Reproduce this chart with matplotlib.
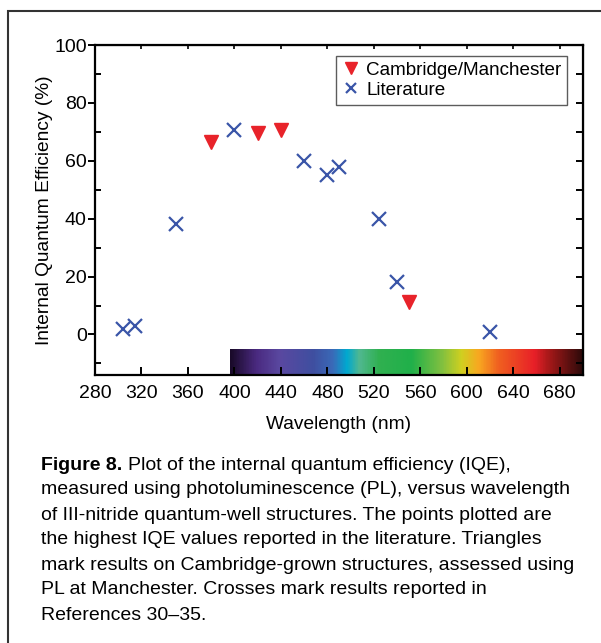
import numpy as np
import matplotlib
matplotlib.use("Agg")
import matplotlib.pyplot as plt
from matplotlib.colors import LinearSegmentedColormap
from matplotlib.patches import Rectangle

plt.rcParams['font.family'] = ['Liberation Sans', 'DejaVu Sans']

# measured points (wavelength nm, IQE %)
cam_wl = [380, 420, 440, 550]
cam_iqe = [66.5, 69.5, 70.5, 11.2]

lit_wl = [304, 314, 350, 400, 460, 480, 490, 524, 540, 620]
lit_iqe = [2.0, 2.9, 38.0, 70.8, 60.0, 55.0, 57.7, 39.8, 18.0, 0.8]

x_ticks = [280, 320, 360, 400, 440, 480, 520, 560, 600, 640, 680]
y_ticks = [0, 20, 40, 60, 80, 100]
y_minor = [-10, 10, 30, 50, 70, 90]

# visible spectrum strip along the bottom
spec_wl = [396, 418, 438, 467, 484, 496, 507, 524, 552, 578, 595, 610, 627, 658, 672, 700]
spec_col = ['#1a0a2a', '#4a2a80', '#5a48a0', '#3f4fa0', '#3a6ab8', '#00a8d0',
            '#50b890', '#30b050', '#20b04a', '#80c040', '#d0d020', '#f8a820',
            '#f06020', '#e82028', '#a01818', '#2a0a0a']

caption = [
    "measured using photoluminescence (PL), versus wavelength",
    "of III-nitride quantum-well structures. The points plotted are",
    "the highest IQE values reported in the literature. Triangles",
    "mark results on Cambridge-grown structures, assessed using",
    "PL at Manchester. Crosses mark results reported in",
    "References 30\u201335.",
]

RED = '#e8232a'
BLUE = '#3a55a8'

fig = plt.figure(figsize=(6.01, 6.43), dpi=100)
ax = fig.add_axes([95/601, 1 - 375/643, 488/601, 330/643])

# spectrum strip
lo, hi = spec_wl[0], spec_wl[-1]
stops = [(w - lo) / (hi - lo) for w in spec_wl]
cmap = LinearSegmentedColormap.from_list('spec', list(zip(stops, spec_col)))
ax.imshow(np.linspace(lo, hi, 400)[None, :], extent=[lo, hi, -14, -5.2],
          aspect='auto', cmap=cmap, zorder=0, interpolation='bilinear')

ax.plot(cam_wl, cam_iqe, linestyle='none', marker='v', color=RED,
        markersize=10.5, label='Cambridge/Manchester', zorder=3)
ax.plot(lit_wl, lit_iqe, linestyle='none', marker='x', color=BLUE,
        markersize=9.5, markeredgewidth=1.6, label='Literature', zorder=3)

ax.set_xlim(280, 700)
ax.set_ylim(-14, 100)
ax.set_xticks(x_ticks)
ax.set_yticks(y_ticks)
ax.set_yticks(y_minor, minor=True)
ax.set_axisbelow(False)

for s in ax.spines.values():
    s.set_linewidth(1.6)

ax.tick_params(axis='x', direction='in', length=6, width=1.4, labelsize=14, pad=7)
ax.tick_params(axis='y', which='major', direction='out', length=5, width=1.4,
               labelsize=14, pad=1)
ax.tick_params(axis='y', which='minor', direction='in', length=4, width=1.4)

# right & top tick marks, inward, no labels
sec_y = ax.secondary_yaxis('right')
sec_y.set_yticks(y_ticks)
sec_y.set_yticks(y_minor, minor=True)
sec_y.tick_params(which='both', direction='in', length=5, width=1.4, labelright=False)
sec_x = ax.secondary_xaxis('top')
sec_x.set_xticks(x_ticks[1:])
sec_x.tick_params(direction='in', length=3, width=1.2, labeltop=False)

ax.set_xlabel('Wavelength (nm)', fontsize=13.8, labelpad=10)
ax.set_ylabel('Internal Quantum Efficiency (%)', fontsize=13.8, labelpad=1)

leg = ax.legend(loc='upper right', bbox_to_anchor=((567 - 95)/488, (375 - 56)/330),
                borderaxespad=0, fontsize=13.6, frameon=True, fancybox=False,
                handletextpad=0.3, handlelength=1.0, markerscale=0.8,
                borderpad=0.3, labelspacing=0.15)
leg.get_frame().set_edgecolor('#333333')
leg.get_frame().set_linewidth(1.0)

# page border (only top and left visible)
fig.patches.append(Rectangle((8/601, -0.1), 1.2, 1 - 11/643 + 0.1,
                             transform=fig.transFigure, fill=False,
                             edgecolor='#333333', linewidth=1.5))

# caption
x0 = 41/601
y_line = 465
bold = fig.text(x0, 1 - y_line/643, "Figure 8.", fontsize=14, fontweight='bold',
                va='center', ha='left')
fig.canvas.draw()
bb = bold.get_window_extent()
fig.text((bb.x1 + 6) / 601, 1 - y_line/643,
         "Plot of the internal quantum efficiency (IQE),",
         fontsize=14, va='center', ha='left')
for i, line in enumerate(caption):
    fig.text(x0, 1 - (y_line + 25 * (i + 1))/643, line, fontsize=14,
             va='center', ha='left')

fig.savefig('out.png', dpi=100)
